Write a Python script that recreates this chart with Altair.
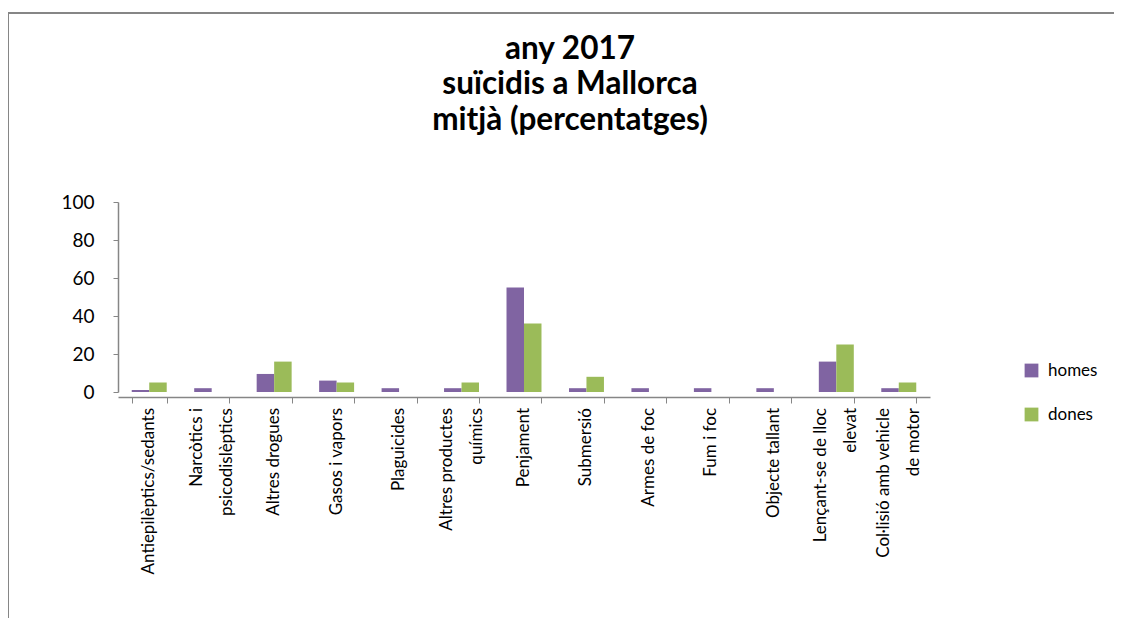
import altair as alt
import pandas as pd

categories = [
    "Antiepilèptics/sedants",
    "Narcòtics i\npsicodislèptics",
    "Altres drogues",
    "Gasos i vapors",
    "Plaguicides",
    "Altres productes\nquímics",
    "Penjament",
    "Submersió",
    "Armes de foc",
    "Fum i foc",
    "Objecte tallant",
    "Lençant-se de lloc\nelevat",
    "Col·lisió amb vehicle\nde motor",
]
homes = [1, 2, 9.5, 6, 2, 2, 55, 2, 2, 2, 2, 16, 2]
dones = [5, 0, 16, 5, 0, 5, 36, 8, 0, 0, 0, 25, 5]
series = ["homes", "dones"]
colors = ["#8064A2", "#9BBB59"]
y_ticks = [0, 20, 40, 60, 80, 100]

rows = []
for c, h, d in zip(categories, homes, dones):
    rows.append({"cat": c, "serie": "homes", "val": h})
    rows.append({"cat": c, "serie": "dones", "val": d})
df = pd.DataFrame(rows)

# one row per label line; "pos" tells which line of a two-line label it is
label_rows = []
for c in categories:
    parts = c.split("\n")
    if len(parts) == 1:
        label_rows.append({"cat": c, "line": parts[0], "pos": "single"})
    else:
        label_rows.append({"cat": c, "line": parts[0], "pos": "first"})
        label_rows.append({"cat": c, "line": parts[1], "pos": "second"})
labels_df = pd.DataFrame(label_rows)

FONT = "Lato"

x_scale = alt.Scale(paddingInner=0.44, paddingOuter=0.22)
x_axis = alt.Axis(
    labels=False,
    tickBand="extent",
    tickSize=6,
    tickColor="#868686",
    domainColor="#868686",
    domainWidth=1.5,
    offset=5,
    grid=False,
)
y_scale = alt.Scale(domain=[0, 100], nice=False)
y_axis = alt.Axis(
    values=y_ticks,
    labelFont=FONT,
    labelFontSize=19,
    labelColor="#000000",
    labelPadding=19,
    labelOverlap=False,
    tickSize=5,
    tickColor="#868686",
    domainColor="#868686",
    domainWidth=1.5,
    grid=False,
)

bars = alt.Chart(df).mark_bar().encode(
    x=alt.X("cat:N", sort=categories, title=None, scale=x_scale, axis=x_axis),
    xOffset=alt.XOffset("serie:N", sort=series),
    y=alt.Y("val:Q", title=None, scale=y_scale, axis=y_axis),
    color=alt.Color(
        "serie:N",
        sort=series,
        scale=alt.Scale(domain=series, range=colors),
        legend=alt.Legend(
            title=None,
            orient="none",
            legendX=905,
            legendY=160,
            symbolType="square",
            symbolSize=190,
            symbolStrokeWidth=0,
            labelFont=FONT,
            labelFontSize=17,
            labelColor="#000000",
            rowPadding=26,
            labelOffset=8,
        ),
    ),
)


def label_layer(pos, shift):
    return (
        alt.Chart(labels_df)
        .transform_filter(alt.datum.pos == pos)
        .mark_text(
            angle=270,
            align="right",
            baseline="middle",
            font=FONT,
            fontSize=17,
            color="#000000",
            dx=-16,
            dy=shift,
        )
        .encode(
            x=alt.X("cat:N", sort=categories, title=None, scale=x_scale, axis=x_axis),
            y=alt.YDatum(0, title=None, scale=y_scale, axis=y_axis),
            text="line:N",
        )
    )


lab_single = label_layer("single", 0)
lab_first = label_layer("first", -15)
lab_second = label_layer("second", 15)

border_top = alt.Chart(df).mark_rule(color="#868686", strokeWidth=2).encode(
    x=alt.value(-110), x2=alt.value(1000), y=alt.value(-189)
)
border_left = alt.Chart(df).mark_rule(color="#868686", strokeWidth=2).encode(
    x=alt.value(-110), y=alt.value(-189), y2=alt.value(420)
)

chart = alt.layer(
    border_top, border_left, bars, lab_single, lab_first, lab_second
).properties(
    width=812,
    height=190,
    padding={"left": 110, "top": 194, "right": 184, "bottom": 226},
    autosize=alt.AutoSizeParams(type="none"),
    title=alt.TitleParams(
        text=["any 2017", "suïcidis a Mallorca", "mitjà (percentatges)"],
        font=FONT,
        fontSize=31.5,
        fontWeight="bold",
        lineHeight=35.5,
        anchor="middle",
        dx=46,
        dy=186,
        offset=62,
        color="#000000",
    ),
).configure(background="white").configure_view(stroke=None)

chart.save("out.html", embed_options={"renderer": "svg", "actions": False})
